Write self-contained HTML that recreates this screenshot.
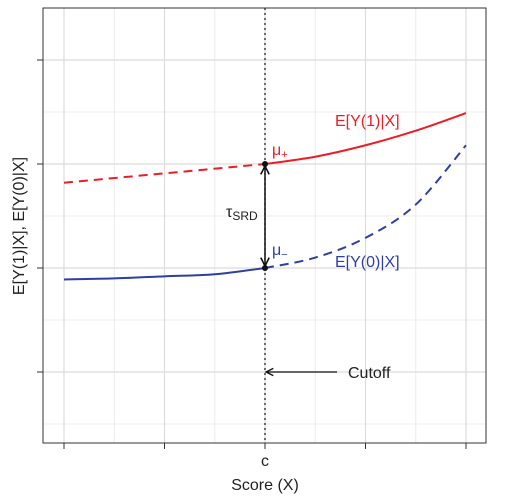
<!DOCTYPE html>
<html><head><meta charset="utf-8"><style>
body{margin:0;background:#fff}
svg{display:block;font-family:"Liberation Sans",sans-serif}
</style></head><body>
<svg id="chart" width="512" height="499">
<defs>
<marker id="ah" viewBox="0 0 10 10" refX="9" refY="5" markerWidth="7" markerHeight="7" orient="auto-start-reverse"><path d="M1,1 L9,5 L1,9" fill="none" stroke="#111" stroke-width="1.5"/></marker>
</defs>
<g id="grid"></g>
<g id="series"></g>
<rect x="43" y="8" width="443" height="435" fill="none" stroke="#333" stroke-width="1"/>
<g id="axes"></g>
<text x="265" y="466" font-size="16" text-anchor="middle" fill="#222">c</text>
<text x="265" y="490" font-size="16" text-anchor="middle" fill="#222">Score (X)</text>
<text transform="translate(24,226) rotate(-90)" font-size="16" text-anchor="middle" fill="#222">E[Y(1)|X], E[Y(0)|X]</text>
<text x="335" y="126" font-size="16" fill="#ee1c25">E[Y(1)|X]</text>
<text x="335" y="267" font-size="16" fill="#2e3fa3">E[Y(0)|X]</text>
<text x="272" y="155" font-size="16" fill="#ee1c25">μ<tspan font-size="11" dy="3">+</tspan></text>
<text x="272" y="255" font-size="16" fill="#2e3fa3">μ<tspan font-size="11" dy="3">−</tspan></text>
<text x="226" y="217" font-size="16" fill="#222">τ<tspan font-size="12" dy="3">SRD</tspan></text>
<text x="348" y="378" font-size="16" fill="#222">Cutoff</text>
</svg>
<script>
const xMajor=[-2,-1,0,1,2];
const xMinor=[-1.5,-0.5,0.5,1.5];
const yMajor=[0,1,2,3];
const yMinor=[-0.5,0.5,1.5,2.5];
const redLeftX=[-2,0];
const redLeftY=[1.82,2.0];
const redRightX=[0,0.5,1,1.5,2];
const redRightY=[2.0,2.07,2.18,2.32,2.49];
const blueLeftX=[-2,-1.5,-1,-0.5,0];
const blueLeftY=[0.89,0.9,0.92,0.94,1.0];
const blueRightX=[0,0.5,1,1.5,2];
const blueRightY=[1.0,1.1,1.29,1.61,2.18];
const cutoffY=[0];
const X=v=>265+v*100.5;
const Y=v=>372-v*104;
const NS="http://www.w3.org/2000/svg";
function mk(tag,attrs,parent){const e=document.createElementNS(NS,tag);for(const k in attrs)e.setAttribute(k,attrs[k]);document.getElementById(parent).appendChild(e);return e;}
xMinor.forEach(v=>{const e=mk('line',{x1:X(v),x2:X(v),y1:8,y2:443,stroke:'#ececec','stroke-width':1},'grid');

});
yMinor.forEach(v=>{const e=mk('line',{x1:43,x2:486,y1:Y(v),y2:Y(v),stroke:'#ececec','stroke-width':1},'grid');

});
xMajor.forEach(v=>{const e=mk('line',{x1:X(v),x2:X(v),y1:8,y2:443,stroke:'#dcdcdc','stroke-width':1.2},'grid');


const t=mk('line',{x1:X(v),x2:X(v),y1:443,y2:449,stroke:'#333'},'axes');

});
yMajor.forEach(v=>{const e=mk('line',{x1:43,x2:486,y1:Y(v),y2:Y(v),stroke:'#dcdcdc','stroke-width':1.2},'grid');


const t=mk('line',{x1:37,x2:43,y1:Y(v),y2:Y(v),stroke:'#333'},'axes');

});
function smooth(xs,ys){const p=xs.map((x,i)=>[X(x),Y(ys[i])]);let d=`M${p[0][0]},${p[0][1]}`;
for(let i=0;i<p.length-1;i++){const p0=p[i-1]||p[i],p1=p[i],p2=p[i+1],p3=p[i+2]||p2;
d+=` C${p1[0]+(p2[0]-p0[0])/6},${p1[1]+(p2[1]-p0[1])/6} ${p2[0]-(p3[0]-p1[0])/6},${p2[1]-(p3[1]-p1[1])/6} ${p2[0]},${p2[1]}`;}return d;}
let e;
e=mk('path',{d:smooth(redLeftX,redLeftY),fill:'none',stroke:'#ee1c25','stroke-width':2,'stroke-dasharray':'9,6'},'series');


e=mk('path',{d:smooth(redRightX,redRightY),fill:'none',stroke:'#ee1c25','stroke-width':2},'series');


e=mk('path',{d:smooth(blueLeftX,blueLeftY),fill:'none',stroke:'#2e3fa3','stroke-width':2},'series');


e=mk('path',{d:smooth(blueRightX,blueRightY),fill:'none',stroke:'#2e3fa3','stroke-width':2,'stroke-dasharray':'9,6'},'series');


e=mk('line',{x1:X(0),x2:X(0),y1:8,y2:443,stroke:'#222','stroke-width':1.3,'stroke-dasharray':'2,3'},'series');


e=mk('line',{x1:X(0),x2:X(0),y1:Y(redRightY[0])+2,y2:Y(blueLeftY[blueLeftY.length-1])-2,stroke:'#111','stroke-width':1.5,'marker-start':'url(#ah)','marker-end':'url(#ah)'},'series');


e=mk('line',{x1:337,x2:X(0)+1,y1:Y(cutoffY[0]),y2:Y(cutoffY[0]),stroke:'#111','stroke-width':1.3,'marker-end':'url(#ah)'},'series');


e=mk('circle',{cx:X(0),cy:Y(redRightY[0]),r:3,fill:'#111'},'series');


e=mk('circle',{cx:X(0),cy:Y(blueLeftY[blueLeftY.length-1]),r:3,fill:'#111'},'series');


</script>
</body></html>
